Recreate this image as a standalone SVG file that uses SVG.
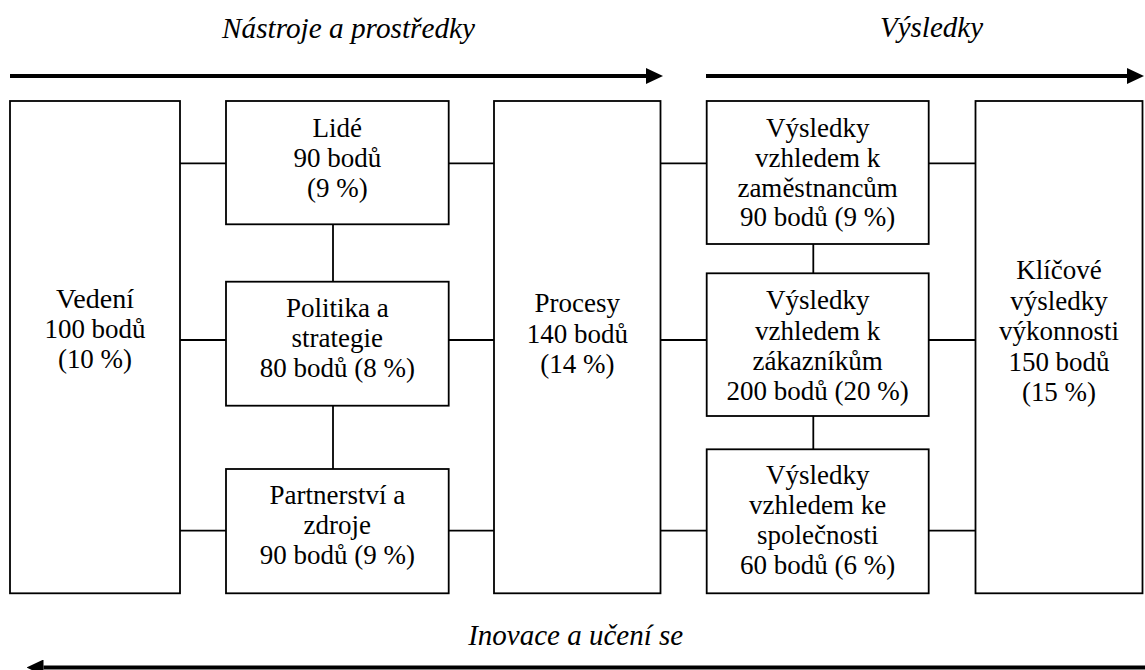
<svg xmlns="http://www.w3.org/2000/svg" width="1145" height="670" viewBox="0 0 1145 670">
<style>
  .box { fill: #ffffff; stroke: #000000; stroke-width: 1.8; }
  .conn { stroke: #000000; stroke-width: 1.8; fill: none; }
  .flow { stroke: #000000; stroke-width: 4; fill: none; }
</style>
<defs>
  <marker id="ah" markerUnits="userSpaceOnUse" markerWidth="17" markerHeight="16" viewBox="0 0 17 16" refX="0" refY="8" orient="auto">
    <path d="M0,0 L17,8 L0,16 Z" fill="#000000"/>
  </marker>
</defs>
<rect width="1145" height="670" fill="#ffffff"/>

<g id="titles">
  <text x="222" y="38" style="font-family:'Liberation Serif';font-size:29px;font-style:italic" textLength="253" lengthAdjust="spacingAndGlyphs">Nástroje a prostředky</text>
  <text x="880" y="37" style="font-family:'Liberation Serif';font-size:29px;font-style:italic" textLength="103" lengthAdjust="spacingAndGlyphs">Výsledky</text>
  <text x="468.2" y="645" style="font-family:'Liberation Serif';font-size:29px;font-style:italic" textLength="215" lengthAdjust="spacingAndGlyphs">Inovace a učení se</text>
</g>

<g id="connectors">
  <line class="flow" x1="10" y1="76" x2="646" y2="76" marker-end="url(#ah)"/>
  <line class="flow" x1="706" y1="76" x2="1127" y2="76" marker-end="url(#ah)"/>
  <line class="flow" x1="1145" y1="667.5" x2="43.5" y2="667.5" marker-end="url(#ah)"/>
  <line class="conn" x1="180" y1="163.3" x2="226" y2="163.3"/>
  <line class="conn" x1="448.7" y1="163.3" x2="494" y2="163.3"/>
  <line class="conn" x1="660.5" y1="163.3" x2="706.7" y2="163.3"/>
  <line class="conn" x1="928.7" y1="163.3" x2="975.5" y2="163.3"/>
  <line class="conn" x1="180" y1="340" x2="226" y2="340"/>
  <line class="conn" x1="448.7" y1="340" x2="494" y2="340"/>
  <line class="conn" x1="660.5" y1="340" x2="706.7" y2="340"/>
  <line class="conn" x1="928.7" y1="340" x2="975.5" y2="340"/>
  <line class="conn" x1="180" y1="530.7" x2="226" y2="530.7"/>
  <line class="conn" x1="448.7" y1="530.7" x2="494" y2="530.7"/>
  <line class="conn" x1="660.5" y1="530.7" x2="706.7" y2="530.7"/>
  <line class="conn" x1="928.7" y1="530.7" x2="975.5" y2="530.7"/>
  <line class="conn" x1="333" y1="224.3" x2="333" y2="281.7"/>
  <line class="conn" x1="333" y1="405.7" x2="333" y2="469"/>
  <line class="conn" x1="813.3" y1="244" x2="813.3" y2="273.3"/>
  <line class="conn" x1="813.3" y1="416" x2="813.3" y2="449.3"/>
</g>

<g id="vedeni">
  <rect class="box" x="10" y="101" width="170" height="492.3"/>
  <text x="56" y="308" style="font-family:'Liberation Serif';font-size:27px" textLength="78" lengthAdjust="spacingAndGlyphs">Vedení</text>
  <text x="44.4" y="338" style="font-family:'Liberation Serif';font-size:27px" textLength="101.2" lengthAdjust="spacingAndGlyphs">100 bodů</text>
  <text x="57.9" y="368" style="font-family:'Liberation Serif';font-size:27px" textLength="74.2" lengthAdjust="spacingAndGlyphs">(10 %)</text>
</g>

<g id="lide">
  <rect class="box" x="226" y="101" width="222.7" height="123.3"/>
  <text x="312.5" y="136.5" style="font-family:'Liberation Serif';font-size:27px" textLength="49.5" lengthAdjust="spacingAndGlyphs">Lidé</text>
  <text x="293.4" y="166.5" style="font-family:'Liberation Serif';font-size:27px" textLength="87.8" lengthAdjust="spacingAndGlyphs">90 bodů</text>
  <text x="307" y="196.5" style="font-family:'Liberation Serif';font-size:27px" textLength="60.7" lengthAdjust="spacingAndGlyphs">(9 %)</text>
</g>

<g id="politika">
  <rect class="box" x="226" y="281.7" width="222.7" height="124"/>
  <text x="285.9" y="316.5" style="font-family:'Liberation Serif';font-size:27px" textLength="102.8" lengthAdjust="spacingAndGlyphs">Politika a</text>
  <text x="291.5" y="346.5" style="font-family:'Liberation Serif';font-size:27px" textLength="91.5" lengthAdjust="spacingAndGlyphs">strategie</text>
  <text x="259.7" y="376.5" style="font-family:'Liberation Serif';font-size:27px" textLength="155.2" lengthAdjust="spacingAndGlyphs">80 bodů (8 %)</text>
</g>

<g id="partnerstvi">
  <rect class="box" x="226" y="469" width="222.7" height="124.3"/>
  <text x="269.5" y="504" style="font-family:'Liberation Serif';font-size:27px" textLength="135.7" lengthAdjust="spacingAndGlyphs">Partnerství a</text>
  <text x="303.5" y="534" style="font-family:'Liberation Serif';font-size:27px" textLength="67.5" lengthAdjust="spacingAndGlyphs">zdroje</text>
  <text x="259.7" y="564" style="font-family:'Liberation Serif';font-size:27px" textLength="155.2" lengthAdjust="spacingAndGlyphs">90 bodů (9 %)</text>
</g>

<g id="procesy">
  <rect class="box" x="494" y="101" width="166.5" height="492.3"/>
  <text x="534.5" y="312" style="font-family:'Liberation Serif';font-size:27px" textLength="85.5" lengthAdjust="spacingAndGlyphs">Procesy</text>
  <text x="526.7" y="342.5" style="font-family:'Liberation Serif';font-size:27px" textLength="101.2" lengthAdjust="spacingAndGlyphs">140 bodů</text>
  <text x="540.2" y="373" style="font-family:'Liberation Serif';font-size:27px" textLength="74.2" lengthAdjust="spacingAndGlyphs">(14 %)</text>
</g>

<g id="vysledky-zamestnanci">
  <rect class="box" x="706.7" y="101" width="222" height="143"/>
  <text x="766" y="136.5" style="font-family:'Liberation Serif';font-size:27px" textLength="103.5" lengthAdjust="spacingAndGlyphs">Výsledky</text>
  <text x="755.1" y="166.5" style="font-family:'Liberation Serif';font-size:27px" textLength="125.2" lengthAdjust="spacingAndGlyphs">vzhledem k</text>
  <text x="737.4" y="196.5" style="font-family:'Liberation Serif';font-size:27px" textLength="160.5" lengthAdjust="spacingAndGlyphs">zaměstnancům</text>
  <text x="740.1" y="226" style="font-family:'Liberation Serif';font-size:27px" textLength="155.2" lengthAdjust="spacingAndGlyphs">90 bodů (9 %)</text>
</g>

<g id="vysledky-zakaznici">
  <rect class="box" x="706.7" y="273.3" width="222" height="142.7"/>
  <text x="766" y="309" style="font-family:'Liberation Serif';font-size:27px" textLength="103.5" lengthAdjust="spacingAndGlyphs">Výsledky</text>
  <text x="755.1" y="339.5" style="font-family:'Liberation Serif';font-size:27px" textLength="125.2" lengthAdjust="spacingAndGlyphs">vzhledem k</text>
  <text x="752.4" y="370" style="font-family:'Liberation Serif';font-size:27px" textLength="130.5" lengthAdjust="spacingAndGlyphs">zákazníkům</text>
  <text x="726.6" y="400" style="font-family:'Liberation Serif';font-size:27px" textLength="182.2" lengthAdjust="spacingAndGlyphs">200 bodů (20 %)</text>
</g>

<g id="vysledky-spolecnost">
  <rect class="box" x="706.7" y="449.3" width="222" height="144"/>
  <text x="766" y="484" style="font-family:'Liberation Serif';font-size:27px" textLength="103.5" lengthAdjust="spacingAndGlyphs">Výsledky</text>
  <text x="749.1" y="514" style="font-family:'Liberation Serif';font-size:27px" textLength="137.2" lengthAdjust="spacingAndGlyphs">vzhledem ke</text>
  <text x="757" y="544" style="font-family:'Liberation Serif';font-size:27px" textLength="121.5" lengthAdjust="spacingAndGlyphs">společnosti</text>
  <text x="740.1" y="574" style="font-family:'Liberation Serif';font-size:27px" textLength="155.2" lengthAdjust="spacingAndGlyphs">60 bodů (6 %)</text>
</g>

<g id="klicove-vysledky">
  <rect class="box" x="975.5" y="101" width="167" height="492.3"/>
  <text x="1016.2" y="279" style="font-family:'Liberation Serif';font-size:27px" textLength="85.5" lengthAdjust="spacingAndGlyphs">Klíčové</text>
  <text x="1010.2" y="309.5" style="font-family:'Liberation Serif';font-size:27px" textLength="97.5" lengthAdjust="spacingAndGlyphs">výsledky</text>
  <text x="999" y="340" style="font-family:'Liberation Serif';font-size:27px" textLength="120" lengthAdjust="spacingAndGlyphs">výkonnosti</text>
  <text x="1008.4" y="370.5" style="font-family:'Liberation Serif';font-size:27px" textLength="101.2" lengthAdjust="spacingAndGlyphs">150 bodů</text>
  <text x="1021.9" y="401" style="font-family:'Liberation Serif';font-size:27px" textLength="74.2" lengthAdjust="spacingAndGlyphs">(15 %)</text>
</g>
</svg>
